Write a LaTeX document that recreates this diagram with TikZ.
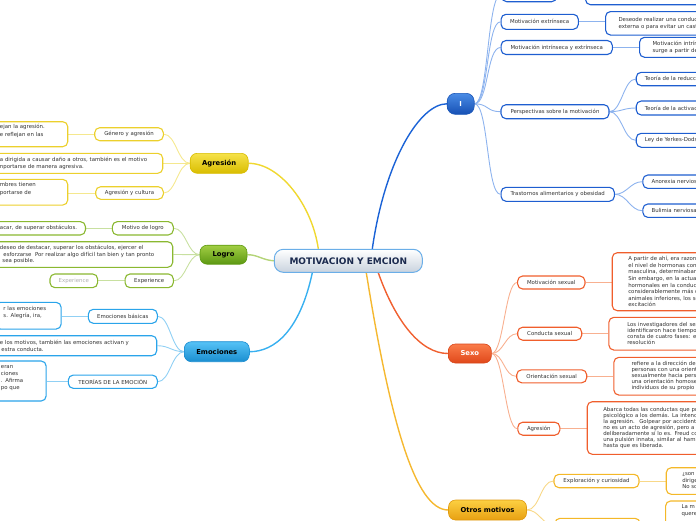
\documentclass[tikz,border=0pt]{standalone}
\usepackage{fontspec}
\setmainfont{DejaVu Sans}
\usetikzlibrary{backgrounds}
\definecolor{txt}{HTML}{333333}
\definecolor{cenB}{HTML}{6AAEE8}
\definecolor{cenF}{HTML}{C9D3DE}
\definecolor{cenT}{HTML}{1B2A4E}
\definecolor{Ibd}{HTML}{1A56B8}
\definecolor{Itop}{HTML}{4A8CE6}
\definecolor{Ibot}{HTML}{1650B4}
\definecolor{Ic}{HTML}{1A62D6}
\definecolor{Ib}{HTML}{1E5ED0}
\definecolor{Is}{HTML}{8DB3EE}
\definecolor{Ybd}{HTML}{D8BC00}
\definecolor{Ytop}{HTML}{F6E24A}
\definecolor{Ybot}{HTML}{D9BD00}
\definecolor{Yc}{HTML}{F0D830}
\definecolor{Yb}{HTML}{ECD02C}
\definecolor{Ys}{HTML}{F5E88E}
\definecolor{Gbd}{HTML}{5E9A12}
\definecolor{Gtop}{HTML}{A2CE44}
\definecolor{Gbot}{HTML}{5C9812}
\definecolor{Gc}{HTML}{B4D478}
\definecolor{Gb}{HTML}{8AB830}
\definecolor{Gs}{HTML}{C8E0A0}
\definecolor{Bbd}{HTML}{1A8CD0}
\definecolor{Btop}{HTML}{56C2F6}
\definecolor{Bbot}{HTML}{1A8ED0}
\definecolor{Bc}{HTML}{38B0F0}
\definecolor{Bb}{HTML}{2AA4EA}
\definecolor{Bs}{HTML}{90D0F4}
\definecolor{Rbd}{HTML}{D8461A}
\definecolor{Rtop}{HTML}{FA7C4A}
\definecolor{Rbot}{HTML}{E0481A}
\definecolor{Rc}{HTML}{F06030}
\definecolor{Rb}{HTML}{F05E2C}
\definecolor{Rs}{HTML}{F8B090}
\definecolor{Obd}{HTML}{E09A10}
\definecolor{Otop}{HTML}{FCD042}
\definecolor{Obot}{HTML}{E8A012}
\definecolor{Oc}{HTML}{F5B830}
\definecolor{Ob}{HTML}{F4B828}
\definecolor{Os}{HTML}{F8D888}
\definecolor{expgrey}{HTML}{B0B0B0}
\newcommand{\lsp}[1]{\fontsize{5.4}{#1}\selectfont}
\tikzset{
  cent/.style={draw=cenB, line width=1pt, rounded corners=9pt, top color=white, bottom color=cenF, text=cenT, font=\fontsize{9}{10}\selectfont\bfseries, minimum width=148pt, minimum height=23pt, inner sep=0pt},
  mbox/.style={draw=#1, line width=0.6pt, rounded corners=7pt, inner sep=0pt, font=\fontsize{6.8}{8}\selectfont\bfseries},
  sbox/.style={draw=#1, fill=white, line width=1.1pt, rounded corners=5pt, inner sep=0pt, text=txt, font=\lsp{6.6}},
  rleaf/.style={sbox=#1, anchor=west, text width=230pt, align=left, inner ysep=0pt},
  lleaf/.style={sbox=#1, anchor=east, align=left, inner xsep=8pt, inner ysep=0pt},
  cline/.style={draw=#1, line width=1.4pt},
  sline/.style={draw=#1, line width=0.9pt},
}
\begin{document}
\begin{tikzpicture}[x=1pt,y=-1pt]
\useasboundingbox (0,0) rectangle (696,520);
\clip (0,0) rectangle (696,520);

% central
\node[cent] (c) at (348.3,260.8) {MOTIVACION Y EMCION};

% main branches
\node[mbox=Ibd, top color=Itop, bottom color=Ibot, text=white, minimum width=27pt, minimum height=21pt, rounded corners=8pt] (I) at (460.7,103.8) {I};
\node[mbox=Ybd, top color=Ytop, bottom color=Ybot, text=black, minimum width=58pt, minimum height=20pt] (A) at (219.2,163.3) {Agresión};
\node[mbox=Gbd, top color=Gtop, bottom color=Gbot, text=black, minimum width=47pt, minimum height=19pt] (L) at (223.5,254.7) {Logro};
\node[mbox=Bbd, top color=Btop, bottom color=Bbot, text=black, minimum width=65pt, minimum height=20pt] (E) at (216.8,351.7) {Emociones};
\node[mbox=Rbd, top color=Rtop, bottom color=Rbot, text=white, minimum width=43pt, minimum height=19pt] (S) at (469.8,353.5) {Sexo};
\node[mbox=Obd, top color=Otop, bottom color=Obot, text=black, minimum width=78pt, minimum height=20pt] (O) at (487.5,510) {Otros motivos};

% I branch
\node[sbox=Ib, minimum width=55pt, minimum height=15pt] (I1) at (529.2,-5.8) {};
\node[sbox=Ib, minimum width=77.3pt, minimum height=15pt] (I2) at (539.7,21.8) {Motivación extrínseca};
\node[sbox=Ib, minimum width=111.3pt, minimum height=14pt] (I3) at (556.7,47.5) {Motivación intrínseca y extrínseca};
\node[sbox=Ib, minimum width=108pt, minimum height=14pt] (I4) at (555,111.7) {Perspectivas sobre la motivación};
\node[sbox=Ib, minimum width=113.3pt, minimum height=14pt] (I5) at (557.7,194.3) {Trastornos alimentarios y obesidad};

\node[rleaf=Ib, inner xsep=11.7pt, minimum height=24.7pt] (I1l) at (585,-7.6) {\mbox{}\\\mbox{}\\a través de la actividad};
\node[rleaf=Ib, inner xsep=13pt, minimum height=23.5pt] (I2l) at (605,23.3) {Deseode realizar una conducta\\externa o para evitar un castigo};
\node[rleaf=Ib, inner xsep=13pt, minimum height=20pt] (I3l) at (639,47.3) {Motivación intrínseca\\surge a partir de};
\node[rleaf=Ib, inner xsep=8.6pt, minimum height=13.4pt] (I4a) at (635.7,79) {Teoría de la reducción del impulso};
\node[rleaf=Ib, inner xsep=8.6pt, minimum height=14pt] (I4b) at (635.7,108) {Teoría de la activación};
\node[rleaf=Ib, inner xsep=8.6pt, minimum height=14pt] (I4c) at (635.7,140.3) {Ley de Yerkes-Dodson};
\node[rleaf=Ib, inner xsep=8.7pt, minimum height=13.4pt] (I5a) at (642.3,181.7) {Anorexia nerviosa};
\node[rleaf=Ib, inner xsep=8.7pt, minimum height=13.4pt] (I5b) at (642.3,210.7) {Bulimia nerviosa};

% Sexo branch
\node[sbox=Rb, minimum width=67.3pt, minimum height=13pt] (S1) at (551.3,282.5) {Motivación sexual};
\node[sbox=Rb, minimum width=64pt, minimum height=13pt] (S2) at (549.7,333.7) {Conducta sexual};
\node[sbox=Rb, minimum width=70pt, minimum height=13pt] (S3) at (551.7,376.3) {Orientación sexual};
\node[sbox=Rb, minimum width=42pt, minimum height=13pt] (S4) at (538.8,428.7) {Agresión};

\node[rleaf=Rb, inner xsep=16pt, minimum height=58pt, font=\lsp{6.6}] (S1l) at (611.7,281.7) {A partir de ahí, era razonable\\el nivel de hormonas concentradas\\masculina, determinaban la\\Sin embargo, en la actualidad\\hormonales en la conducta\\considerablemente más débil\\animales inferiores, los seres\\excitación};
\node[rleaf=Rb, inner xsep=18.4pt, minimum height=32.7pt, font=\lsp{6}] (S2l) at (608.3,333.7) {Los investigadores del sexo\\identificaron hace tiempo\\consta de cuatro fases: excitación\\resolución};
\node[rleaf=Rb, inner xsep=17.7pt, minimum height=37.7pt, font=\lsp{6}] (S3l) at (613.3,376.2) {refiere a la dirección del\\personas con una orientación\\sexualmente hacia personas\\una orientación homosexual\\individuos de su propio sexo};
\node[rleaf=Rb, inner xsep=16pt, minimum height=52.6pt, font=\lsp{6.1}] (S4l) at (586.7,428) {Abarca todas las conductas que pretenden\\psicológico a los demás. La intención\\la agresión.~ Golpear por accidente\\no es un acto de agresión, pero a\\deliberadamente sí lo es. Freud consideraba\\una pulsión innata, similar al hambre\\hasta que es liberada.};

% Otros motivos branch
\node[sbox=Ob, minimum width=85pt, minimum height=13.4pt] (O1) at (596.5,481) {Exploración y curiosidad};
\node[sbox=Ob, minimum width=85pt, minimum height=13.4pt] (O2) at (597.5,525) {};
\node[rleaf=Ob, inner xsep=16pt, minimum height=26.6pt, font=\lsp{6.5}] (O1l) at (665.7,481) {¿son m\\dirige\\No so};
\node[rleaf=Ob, inner xsep=16pt, minimum height=39pt, font=\lsp{7}] (O2l) at (665,520.5) {La m\\quere\\\mbox{}\\\mbox{}\\\mbox{}};

% Agresion branch
\node[sbox=Yb, minimum width=68.6pt, minimum height=13pt] (A1) at (129,134.2) {Género y agresión};
\node[sbox=Yb, minimum width=67.6pt, minimum height=12.6pt] (A2) at (129.5,193) {Agresión y cultura};
\node[lleaf=Yb, text width=59.8pt, minimum height=25pt, font=\lsp{7.5}] (A1l) at (68.3,134.2) {ejan la agresión.\\e reflejan en las\\\mbox{}};
\node[lleaf=Yb, text width=154.8pt, minimum height=20pt, font=\lsp{6.7}] (Am) at (163.3,163.3) {a dirigida a causar daño a otros, también es el motivo\\nportarse de manera agresiva.};
\node[lleaf=Yb, text width=59.8pt, minimum height=25.7pt, font=\lsp{7.5}] (A2l) at (68.3,192.2) {mbres tienen\\portarse de\\\mbox{}};

% Logro branch
\node[sbox=Gb, minimum width=61pt, minimum height=13.3pt] (L1) at (142.8,228.3) {Motivo de logro};
\node[sbox=Gb, minimum width=48.3pt, minimum height=13.7pt] (L2) at (149.2,280.8) {Experience};
\node[lleaf=Gb, text width=77.5pt, minimum height=13.3pt] (L1l) at (86,228.3) {acar, de superar obstáculos.};
\node[lleaf=Gb, text width=164.8pt, minimum height=25.6pt, font=\lsp{6.2}] (Lm) at (173.3,254.5) {deseo de destacar, superar los obstáculos, ejercer el\\\hspace*{3.5pt}esforzarse~ Por realizar algo difícil tan bien y tan pronto\\\hspace*{2.5pt}sea posible.};
\node[sbox=Gb, text=expgrey, minimum width=47.7pt, minimum height=13.7pt] (L2l) at (73.8,280.8) {Experience};

% Emociones branch
\node[sbox=Bb, minimum width=69pt, minimum height=14pt] (E1) at (122.8,316.3) {Emociones básicas};
\node[sbox=Bb, minimum width=89pt, minimum height=13.3pt] (E2) at (112.8,381.7) {TEORÍAS DE LA EMOCIÓN};
\node[lleaf=Bb, text width=49.7pt, minimum height=26.7pt, font=\lsp{7}] (E1l) at (61.7,315.7) {r las emociones\\s. Alegría, ira,\\\mbox{}};
\node[lleaf=Bb, text width=148.8pt, minimum height=20pt, font=\lsp{6.5}] (Em) at (157.3,345.7) {e los motivos, también las emociones activan y\\\hspace*{1.5pt}estra conducta.};
\node[lleaf=Bb, text width=37.2pt, minimum height=40pt, font=\lsp{6.8}] (E2l) at (46.7,381) {eran\\ciones\\. Afirma\\po que\\\mbox{}};

% connectors
\begin{scope}[on background layer]
\draw[cline=Yc] ([xshift=-30pt]c.north) .. controls (312,205) and (280,163.3) .. (A.east);
\draw[cline=Ic] ([xshift=24pt]c.north) .. controls (385,160) and (420,103.8) .. (I.west);
\draw[cline=Gc] (c.west) .. controls (262,260) and (258,254.7) .. (L.east);
\draw[cline=Bc] ([xshift=-36pt]c.south) .. controls (300,330) and (275,351.7) .. (E.east);
\draw[cline=Rc] ([xshift=30pt]c.south) .. controls (395,320) and (420,353.5) .. (S.west);
\draw[cline=Oc] ([xshift=18pt]c.south) .. controls (390,420) and (415,510) .. (O.west);

\foreach \k in {I1,I2,I3,I4,I5}
  \draw[sline=Is] (I.east) .. controls +(14pt,0) and +(-14pt,0) .. (\k.west);
\foreach \k in {I4a,I4b,I4c}
  \draw[sline=Is] (I4.east) .. controls +(12pt,0) and +(-12pt,0) .. (\k.west);
\foreach \k in {I5a,I5b}
  \draw[sline=Is] (I5.east) .. controls +(12pt,0) and +(-12pt,0) .. (\k.west);
\draw[sline=Is] (I1.east) -- (I1.east -| I1l.west);
\draw[sline=Is] (I2.east) -- (I2.east -| I2l.west);
\draw[sline=Is] (I3.east) -- (I3.east -| I3l.west);

\foreach \k in {S1,S2,S3,S4}
  \draw[sline=Rs] (S.east) .. controls +(12pt,0) and +(-12pt,0) .. (\k.west);
\draw[sline=Rs] (S1.east) -- (S1.east -| S1l.west);
\draw[sline=Rs] (S2.east) -- (S2.east -| S2l.west);
\draw[sline=Rs] (S3.east) -- (S3.east -| S3l.west);
\draw[sline=Rs] (S4.east) -- (S4.east -| S4l.west);

\foreach \k in {O1,O2}
  \draw[sline=Os] (O.east) .. controls +(13pt,0) and +(-13pt,0) .. (\k.west);
\draw[sline=Os] (O1.east) -- (O1.east -| O1l.west);
\draw[sline=Os] (O2.east) -- (O2.east -| O2l.west);

\foreach \k in {A1,Am,A2}
  \draw[sline=Ys] (A.west) .. controls +(-12pt,0) and +(12pt,0) .. (\k.east);
\draw[sline=Ys] (A1.west) -- (A1.west -| A1l.east);
\draw[sline=Ys] (A2.west) -- (A2.west -| A2l.east);

\foreach \k in {L1,Lm,L2}
  \draw[sline=Gs] (L.west) .. controls +(-12pt,0) and +(12pt,0) .. (\k.east);
\draw[sline=Gs] (L1.west) -- (L1.west -| L1l.east);
\draw[sline=Gs] (L2.west) -- (L2.west -| L2l.east);

\foreach \k in {E1,Em,E2}
  \draw[sline=Bs] (E.west) .. controls +(-12pt,0) and +(12pt,0) .. (\k.east);
\draw[sline=Bs] (E1.west) -- (E1.west -| E1l.east);
\draw[sline=Bs] (E2.west) -- (E2.west -| E2l.east);
\end{scope}
\end{tikzpicture}
\end{document}
